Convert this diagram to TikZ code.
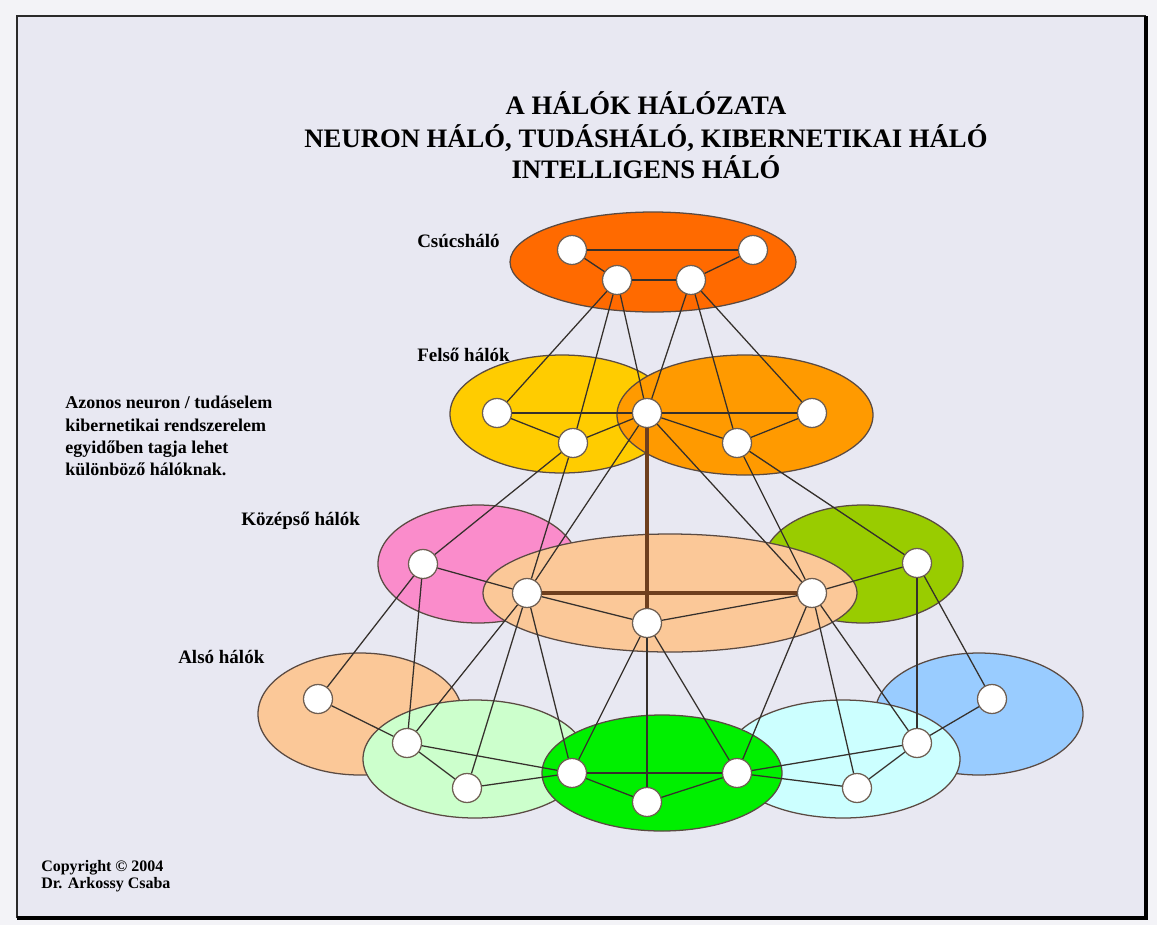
\documentclass[tikz,border=0pt]{standalone}
\usepackage{fontspec}
\setmainfont{Liberation Serif}
\usetikzlibrary{shapes.geometric}

\definecolor{pagebg}{HTML}{F3F3F7}
\definecolor{panelbg}{HTML}{E8E8F2}
\definecolor{framecol}{HTML}{2A2A2A}
\definecolor{ringcol}{HTML}{5A4A42}
\definecolor{unitedge}{HTML}{6E5E52}
\definecolor{linkcol}{HTML}{35302C}
\definecolor{trunkcol}{HTML}{6E3F1E}
\definecolor{cTop}{HTML}{FF6A00}
\definecolor{cYellow}{HTML}{FFCC00}
\definecolor{cOrange}{HTML}{FF9A00}
\definecolor{cPink}{HTML}{FA8CCB}
\definecolor{cLime}{HTML}{99CC00}
\definecolor{cPeach}{HTML}{FBC898}
\definecolor{cLGreen}{HTML}{CCFFCC}
\definecolor{cGreen}{HTML}{00F000}
\definecolor{cCyan}{HTML}{CCFFFF}
\definecolor{cBlue}{HTML}{99CCFF}

\begin{document}
\begin{tikzpicture}[x=0.75pt,y=-0.75pt,
  net/.style n args={2}{ellipse, draw=ringcol, line width=0.95pt, inner sep=0pt,
    minimum width=#1*1.5pt, minimum height=#2*1.5pt},
  unit/.style={circle, draw=unitedge, fill=white, line width=0.95pt,
    minimum size=21.75pt, inner sep=0pt},
  link/.style={draw=linkcol, line width=0.95pt},
  trunk/.style={draw=trunkcol, line width=2.4pt},
  stem/.style={draw=linkcol, line width=1.7pt},
  titleline/.style={font=\fontsize{20}{24}\selectfont\bfseries, anchor=base, inner sep=0pt},
  lbl/.style={font=\fontsize{14.25}{17}\selectfont\bfseries, anchor=base west, inner sep=0pt},
]
\useasboundingbox (0,0) rectangle (1157,925);

% page and framed panel
\fill[pagebg] (0,0) rectangle (1157,925);
\fill[panelbg] (17,16) rectangle (1146,918);
\draw[framecol, line width=1.6pt] (17,918) -- (17,16) -- (1146,16);
\draw[black, line width=2.4pt] (17,918) -- (1146,918) -- (1146,16);

% titles
\node[titleline] (title1) at (646,114) {A HÁLÓK HÁLÓZATA};
\node[titleline] (title2) at (646,147) {NEURON HÁLÓ, TUDÁSHÁLÓ, KIBERNETIKAI HÁLÓ};
\node[titleline] (title3) at (646,178) {INTELLIGENS HÁLÓ};

% level labels
\node[lbl] (lblTop) at (417,247) {Csúcsháló};
\node[lbl] (lblUpper) at (417,361) {Felső hálók};
\node[lbl] (lblMid) at (241,525) {Középső hálók};
\node[lbl] (lblLow) at (178,663) {Alsó hálók};

\node[font=\fontsize{13.5}{16.7}\selectfont\bfseries, align=left, anchor=north west, inner sep=0pt]
  (note) at (65,396) {Azonos neuron / tudáselem\\kibernetikai rendszerelem\\egyidőben tagja lehet\\különböző hálóknak.};

\node[font=\fontsize{12}{12.75}\selectfont\bfseries, align=left, anchor=north west, inner sep=0pt]
  (copy) at (41,860) {Copyright © 2004\\Dr. Arkossy Csaba};

% network areas, back to front
\node[net={143}{50}, fill=cTop] (eTop) at (653,262) {};
\node[net={112}{59}, fill=cYellow] (eYellow) at (562,414) {};
\node[net={128}{60}, fill=cOrange] (eOrange) at (745,415) {};
\node[net={100}{59}, fill=cPink] (ePink) at (478,564) {};
\node[net={100}{59}, fill=cLime] (eLime) at (863,564) {};
\node[net={187}{59}, fill=cPeach] (ePeach) at (670,593) {};
\node[net={102}{61}, fill=cPeach] (eLeft) at (360,714) {};
\node[net={104}{61}, fill=cBlue] (eBlue) at (979,714) {};
\node[net={112}{59}, fill=cLGreen] (eLGreen) at (475,759) {};
\node[net={117}{59}, fill=cCyan] (eCyan) at (843,759) {};
\node[net={120}{58}, fill=cGreen] (eGreen) at (662,773) {};

% units
\node[unit] (T1) at (572,250) {};
\node[unit] (T2) at (753,250) {};
\node[unit] (T3) at (617,280) {};
\node[unit] (T4) at (691,280) {};

\node[unit] (F1) at (497,413) {};
\node[unit] (F2) at (573,443) {};
\node[unit] (F3) at (647,413) {};
\node[unit] (F4) at (737,443) {};
\node[unit] (F5) at (812,413) {};

\node[unit] (P)  at (423,564) {};
\node[unit] (M1) at (527,593) {};
\node[unit] (M3) at (647,623) {};
\node[unit] (M2) at (812,593) {};
\node[unit] (G)  at (917,563) {};

\node[unit] (L1) at (318,699) {};
\node[unit] (L2) at (407,743) {};
\node[unit] (L3) at (467,788) {};
\node[unit] (B1) at (572,773) {};
\node[unit] (B3) at (647,802) {};
\node[unit] (B2) at (737,773) {};
\node[unit] (R3) at (857,788) {};
\node[unit] (R2) at (917,743) {};
\node[unit] (R1) at (992,699) {};

% top network
\draw[link] (T1) -- (T2);
\draw[link] (T3) -- (T4);
\draw[link] (T1) -- (T3);
\draw[link] (T2) -- (T4);

% top to upper
\draw[link] (T3) -- (F1);
\draw[link] (T3) -- (F2);
\draw[link] (T3) -- (F3);
\draw[link] (T4) -- (F3);
\draw[link] (T4) -- (F4);
\draw[link] (T4) -- (F5);

% upper networks
\draw[link] (F1) -- (F3);
\draw[link] (F3) -- (F5);
\draw[link] (F1) -- (F2);
\draw[link] (F2) -- (F3);
\draw[link] (F3) -- (F4);
\draw[link] (F4) -- (F5);

% upper to middle
\draw[link] (F2) -- (P);
\draw[link] (F2) -- (M1);
\draw[link] (F3) -- (M1);
\draw[trunk] (F3) -- (M3);
\draw[link] (F3) -- (M2);
\draw[link] (F4) -- (M2);
\draw[link] (F4) -- (G);

% middle networks
\draw[link] (P) -- (M1);
\draw[trunk] (M1) -- (M2);
\draw[link] (M1) -- (M3);
\draw[link] (M3) -- (M2);
\draw[link] (M2) -- (G);

% middle to lower
\draw[link] (P) -- (L1);
\draw[link] (P) -- (L2);
\draw[link] (M1) -- (L2);
\draw[link] (M1) -- (L3);
\draw[link] (M1) -- (B1);
\draw[link] (M3) -- (B1);
\draw[stem] (M3) -- (B3);
\draw[link] (M3) -- (B2);
\draw[link] (M2) -- (B2);
\draw[link] (M2) -- (R3);
\draw[link] (M2) -- (R2);
\draw[link] (G) -- (R2);
\draw[link] (G) -- (R1);

% lower networks
\draw[link] (L1) -- (L2);
\draw[link] (L2) -- (L3);
\draw[link] (L2) -- (B1);
\draw[link] (L3) -- (B1);
\draw[link] (B1) -- (B2);
\draw[link] (B1) -- (B3);
\draw[link] (B3) -- (B2);
\draw[link] (B2) -- (R3);
\draw[link] (B2) -- (R2);
\draw[link] (R3) -- (R2);
\draw[link] (R2) -- (R1);
\end{tikzpicture}
\end{document}
